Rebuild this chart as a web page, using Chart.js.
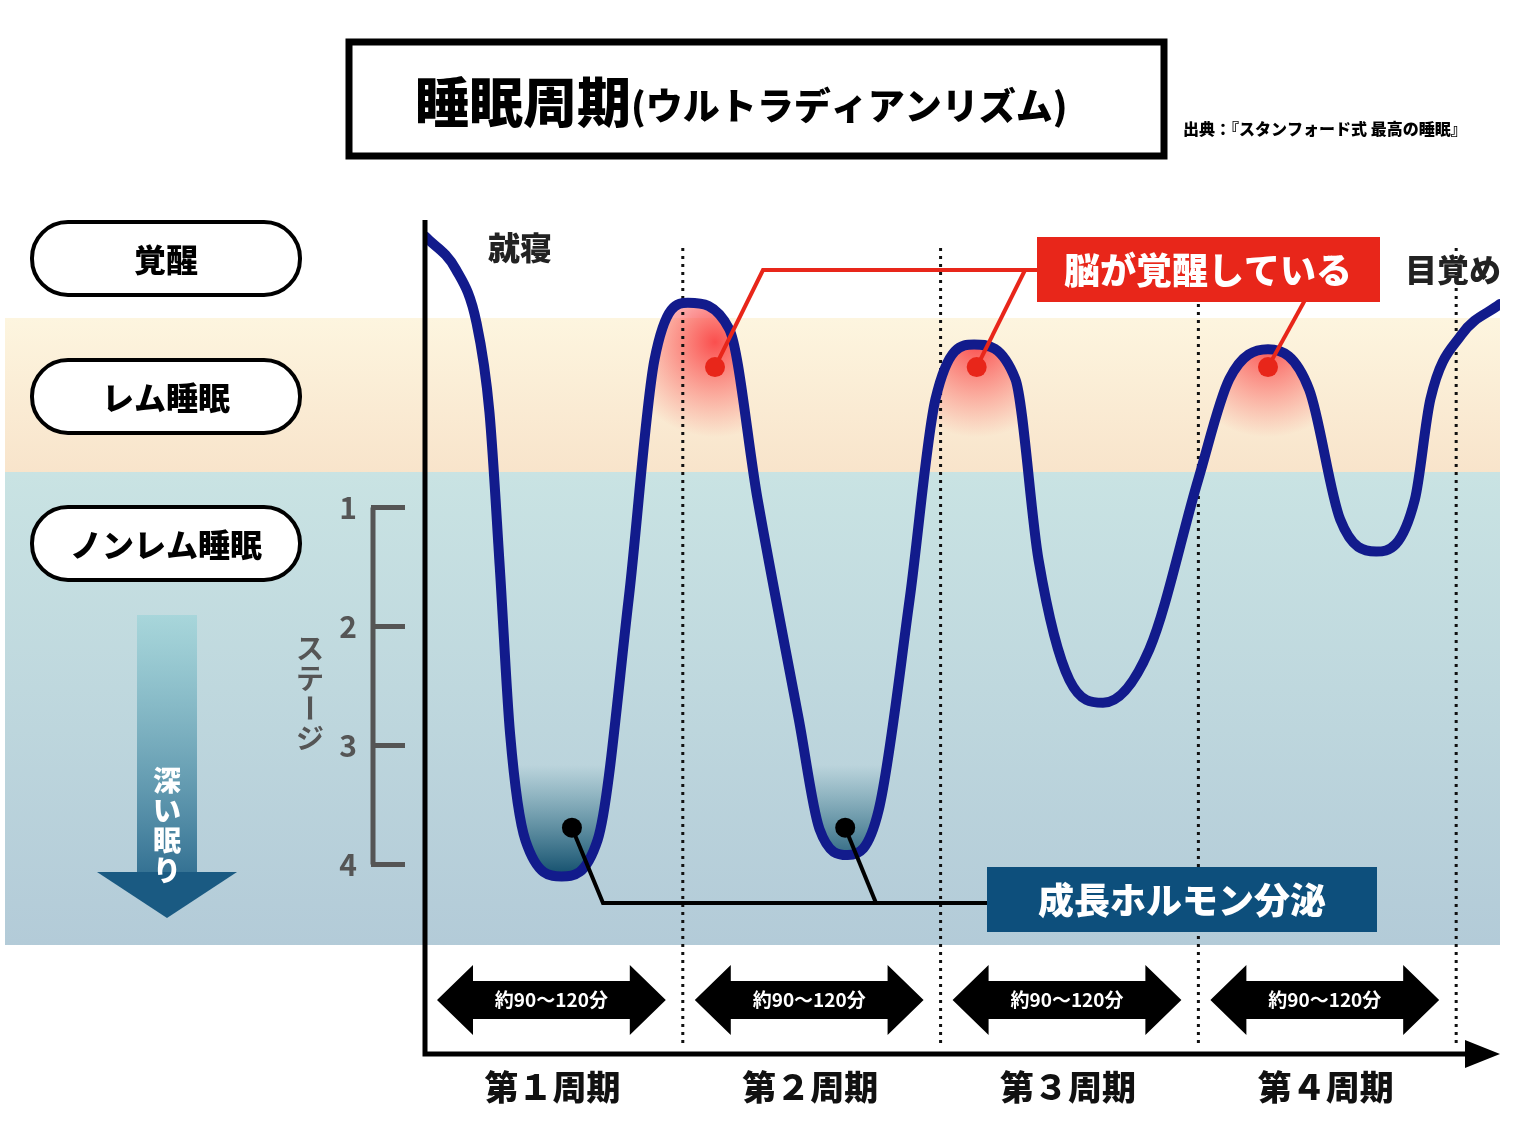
<!DOCTYPE html>
<html><head><meta charset="utf-8">
<script src="https://cdn.jsdelivr.net/npm/chart.js@4"></script>
<style>html,body{margin:0;padding:0;background:#fff;overflow:hidden}</style>
</head><body>
<canvas id="c" width="1516" height="1134"></canvas>
<script>
// ---- data ----
const curveX = [0,0.12,0.2,0.25,0.29,0.33,0.39,0.53,0.67,0.79,0.89,1.02,1.18,1.29,1.45,1.53,1.64,1.76,1.88,1.98,2.13,2.29,2.38,2.5,2.63,2.81,3.0,3.12,3.27,3.43,3.55,3.69,3.84,3.9,4.02,4.17];
const curveY = [-1.28,-1.0,-0.55,0.2,1.5,2.9,3.8,4.1,3.79,1.77,-0.24,-0.72,-0.5,0.93,2.78,3.7,3.92,3.54,1.77,0.09,-0.37,-0.08,1.44,2.45,2.64,2.19,0.76,-0.08,-0.33,0.01,1.1,1.37,0.93,0.09,-0.45,-0.71];
const periodBounds = [1,2,3,4];
const periodLabels = ['第１周期','第２周期','第３周期','第４周期'];
const periodSpan = '約90〜120分';
const stageTicks = ['1','2','3','4'];
const stageValues = [1,2,3,4];
const remDots = [[1.125,-0.18],[2.14,-0.18],[3.27,-0.18]];
const ghDots = [[0.57,3.69],[1.63,3.69]];
const stateLabels = ['覚醒','レム睡眠','ノンレム睡眠'];
const F = '"Noto Sans CJK JP", sans-serif';

function rr(ctx,x,y,w,h,r){ctx.beginPath();ctx.moveTo(x+r,y);ctx.arcTo(x+w,y,x+w,y+h,r);ctx.arcTo(x+w,y+h,x,y+h,r);ctx.arcTo(x,y+h,x,y,r);ctx.arcTo(x,y,x+w,y,r);ctx.closePath();}

const deco = {
  id:'deco',
  beforeDraw(chart){
    const ctx=chart.ctx;
    ctx.save();
    ctx.fillStyle='#fff';ctx.fillRect(0,0,1516,1134);
    let g=ctx.createLinearGradient(0,318,0,472);g.addColorStop(0,'#fdf5df');g.addColorStop(1,'#f8e4cb');
    ctx.fillStyle=g;ctx.fillRect(5,318,1495,154);
    g=ctx.createLinearGradient(0,472,0,945);g.addColorStop(0,'#c9e3e3');g.addColorStop(1,'#b3cbd8');
    ctx.fillStyle=g;ctx.fillRect(5,472,1495,473);
    ctx.restore();
  },
  beforeDatasetsDraw(chart){
    const ctx=chart.ctx, sx=chart.scales.x, sy=chart.scales.y;
    const line=chart.getDatasetMeta(0).dataset;
    ctx.save();
    ctx.beginPath();
    try{line.path(ctx);}catch(e){}
    ctx.lineTo(1500,1134);ctx.lineTo(425,1134);ctx.closePath();ctx.clip();
    remDots.forEach(([x,y])=>{
      const px=sx.getPixelForValue(x), py=sy.getPixelForValue(y)-25;
      const g=ctx.createRadialGradient(px,py,0,px,py,95);
      g.addColorStop(0,'rgba(250,70,70,0.95)');g.addColorStop(1,'rgba(250,90,90,0)');
      ctx.fillStyle=g;ctx.fillRect(px-100,py-100,200,200);
    });
    ctx.restore();
    ctx.save();
    ctx.beginPath();
    try{line.path(ctx);}catch(e){}
    ctx.lineTo(1500,0);ctx.lineTo(425,0);ctx.closePath();ctx.clip();
    const g=ctx.createLinearGradient(0,765,0,875);
    g.addColorStop(0,'rgba(40,110,130,0)');g.addColorStop(1,'rgba(20,80,110,1)');
    ctx.fillStyle=g;ctx.fillRect(500,700,420,200);
    ctx.restore();
    ctx.save();ctx.strokeStyle='#111';ctx.lineWidth=3;ctx.setLineDash([3,5]);
    periodBounds.forEach(b=>{const px=sx.getPixelForValue(b);ctx.beginPath();ctx.moveTo(px,248);ctx.lineTo(px,1045);ctx.stroke();});
    ctx.restore();
  },
  afterDraw(chart){
    const ctx=chart.ctx, sx=chart.scales.x, sy=chart.scales.y;
    ctx.save();
    ctx.strokeStyle='#000';ctx.fillStyle='#000';ctx.lineWidth=5;
    ctx.beginPath();ctx.moveTo(425,220);ctx.lineTo(425,1054);ctx.lineTo(1470,1054);ctx.stroke();
    ctx.beginPath();ctx.moveTo(1500,1054);ctx.lineTo(1465,1040);ctx.lineTo(1465,1068);ctx.closePath();ctx.fill();
    ctx.lineWidth=7;ctx.strokeRect(349,42,815,114);
    ctx.textBaseline='middle';ctx.textAlign='left';
    ctx.font='900 54px '+F;ctx.fillText('睡眠周期',415,102);
    const w1=ctx.measureText('睡眠周期').width;
    ctx.font='900 37px '+F;ctx.fillText('(ウルトラディアンリズム)',415+w1,106);
    ctx.font='900 16px '+F;ctx.fillText('出典：『スタンフォード式 最高の睡眠』',1183,129);
    [[222,stateLabels[0]],[360,stateLabels[1]],[507,stateLabels[2]]].forEach(([y,t])=>{
      rr(ctx,32,y,268,73,36);ctx.fillStyle='#fff';ctx.fill();ctx.lineWidth=4;ctx.strokeStyle='#000';ctx.stroke();
      ctx.fillStyle='#000';ctx.font='900 32px '+F;ctx.textAlign='center';ctx.fillText(t,166,y+38);
    });
    let g=ctx.createLinearGradient(0,615,0,918);g.addColorStop(0,'rgba(150,210,215,0.6)');g.addColorStop(1,'#1a5a82');
    ctx.fillStyle=g;ctx.fillRect(137,615,60,258);
    ctx.beginPath();ctx.moveTo(97,872);ctx.lineTo(237,872);ctx.lineTo(167,918);ctx.closePath();ctx.fillStyle='#1a5a82';ctx.fill();
    ctx.fillStyle='#fff';ctx.font='900 28px '+F;ctx.textAlign='center';
    '深い眠り'.split('').forEach((ch,i)=>ctx.fillText(ch,167,780+i*30));
    ctx.strokeStyle='#555';ctx.lineWidth=5;
    const y0=sy.getPixelForValue(stageValues[0]),y3=sy.getPixelForValue(stageValues[3]);
    ctx.beginPath();ctx.moveTo(373,y0);ctx.lineTo(373,y3);ctx.stroke();
    ctx.fillStyle='#555';ctx.font='bold 30px '+F;
    stageValues.forEach((v,i)=>{const py=sy.getPixelForValue(v);ctx.beginPath();ctx.moveTo(371,py);ctx.lineTo(405,py);ctx.stroke();ctx.fillText(stageTicks[i],348,py);});
    ctx.font='bold 28px '+F;
    'ステージ'.split('').forEach((ch,i)=>{
      if(ch==='ー'){ctx.save();ctx.translate(310,648+i*30);ctx.rotate(Math.PI/2);ctx.fillText(ch,0,0);ctx.restore();}
      else ctx.fillText(ch,310,648+i*30);
    });
    ctx.fillStyle='#222';ctx.font='900 32px '+F;ctx.textAlign='left';
    ctx.fillText('就寝',488,248);ctx.fillText('目覚め',1405,270);
    ctx.strokeStyle='#e8261a';ctx.lineWidth=4;
    const rp=remDots.map(([x,y])=>[sx.getPixelForValue(x),sy.getPixelForValue(y)]);
    ctx.beginPath();ctx.moveTo(1040,270);ctx.lineTo(763,270);ctx.lineTo(rp[0][0],rp[0][1]);ctx.stroke();
    ctx.beginPath();ctx.moveTo(1025,270);ctx.lineTo(rp[1][0],rp[1][1]);ctx.stroke();
    ctx.beginPath();ctx.moveTo(1305,300);ctx.lineTo(rp[2][0],rp[2][1]);ctx.stroke();
    ctx.fillStyle='#e8261a';
    rp.forEach(([x,y])=>{ctx.beginPath();ctx.arc(x,y,10,0,Math.PI*2);ctx.fill();});
    ctx.fillRect(1037,237,343,65);
    ctx.fillStyle='#fff';ctx.font='900 36px '+F;ctx.textAlign='center';ctx.fillText('脳が覚醒している',1208,270);
    ctx.strokeStyle='#000';ctx.lineWidth=4;
    const gp=ghDots.map(([x,y])=>[sx.getPixelForValue(x),sy.getPixelForValue(y)]);
    ctx.beginPath();ctx.moveTo(990,903);ctx.lineTo(603,903);ctx.lineTo(gp[0][0],gp[0][1]);ctx.stroke();
    ctx.beginPath();ctx.moveTo(876,903);ctx.lineTo(gp[1][0],gp[1][1]);ctx.stroke();
    ctx.fillStyle='#000';
    gp.forEach(([x,y])=>{ctx.beginPath();ctx.arc(x,y,10,0,Math.PI*2);ctx.fill();});
    ctx.fillStyle='#0d4f7c';ctx.fillRect(987,867,390,65);
    ctx.fillStyle='#fff';ctx.font='900 36px '+F;ctx.fillText('成長ホルモン分泌',1182,900);
    [0,1,2,3].forEach(i=>{
      const a=sx.getPixelForValue(i)+12, b=sx.getPixelForValue(i+1)-17, cy=1000, c=(a+b)/2;
      ctx.fillStyle='#000';ctx.beginPath();
      ctx.moveTo(a,cy);ctx.lineTo(a+36,cy-35);ctx.lineTo(a+36,cy-19);ctx.lineTo(b-36,cy-19);ctx.lineTo(b-36,cy-35);
      ctx.lineTo(b,cy);ctx.lineTo(b-36,cy+35);ctx.lineTo(b-36,cy+19);ctx.lineTo(a+36,cy+19);ctx.lineTo(a+36,cy+35);ctx.closePath();ctx.fill();
      ctx.fillStyle='#fff';ctx.font='bold 19px '+F;ctx.fillText(periodSpan,c,1000);
      ctx.fillStyle='#111';ctx.font='900 34px '+F;ctx.fillText(periodLabels[i],c+1,1087);
    });
    ctx.restore();
  }
};

new Chart(document.getElementById('c'),{
  type:'line',
  data:{datasets:[{data:curveX.map((x,i)=>({x,y:curveY[i]})),borderColor:'#121b8c',borderWidth:10,pointRadius:0,cubicInterpolationMode:'monotone',fill:false,borderCapStyle:'round'}]},
  options:{responsive:false,animation:false,devicePixelRatio:1,
    layout:{padding:{left:425,right:16,top:210,bottom:79}},
    plugins:{legend:{display:false},tooltip:{enabled:false}},
    scales:{x:{type:'linear',min:0,max:4.17,display:false},y:{min:-1.5,max:5.6,reverse:true,display:false}}},
  plugins:[deco]
});
</script>
</body></html>
